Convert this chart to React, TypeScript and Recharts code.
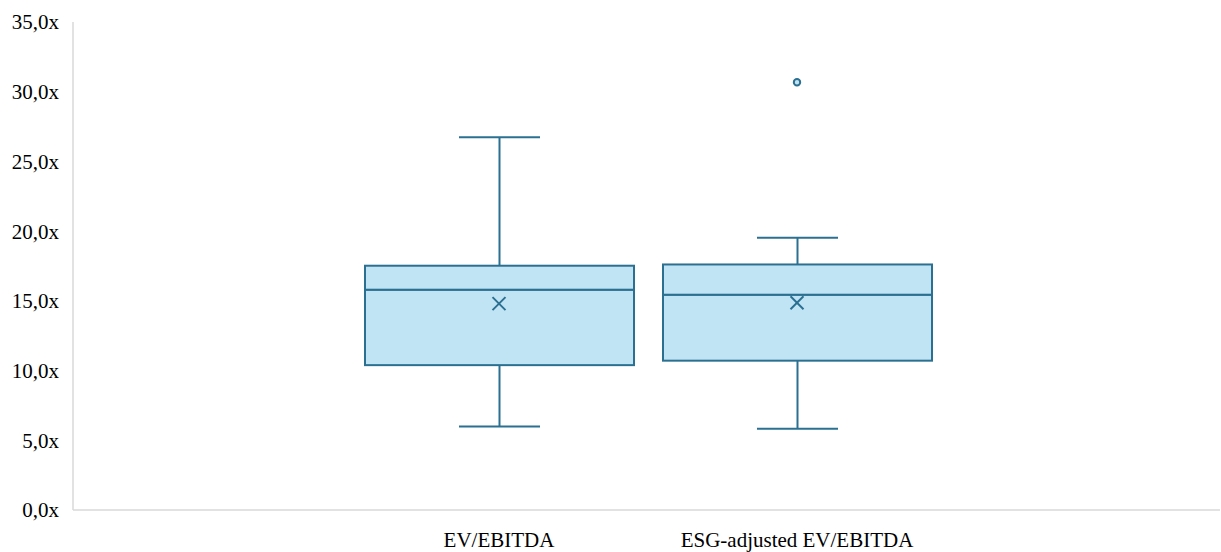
import React from 'react';
import { ComposedChart, Bar, Line, XAxis, YAxis } from 'recharts';

// Box & whisker statistics per category
const categories = ['EV/EBITDA', 'ESG-adjusted EV/EBITDA'];
const minValues = [5.98, 5.82];
const q1Values = [10.39, 10.71];
const medianValues = [15.8, 15.44];
const q3Values = [17.52, 17.61];
const maxValues = [26.74, 19.52];
const meanValues = [14.8, 14.87];
const outlierValues: (number | null)[] = [null, 30.68];
const yTicks = [0, 5, 10, 15, 20, 25, 30, 35];

const STROKE = '#2B7091';
const FILL = '#C1E4F5';
const FONT = '"Liberation Serif", "Times New Roman", serif';
const CAP_WIDTH = 81;

// Stacked segments: invisible base up to the minimum, then whisker/box pieces
const data = categories.map((name, i) => ({
  name,
  base: minValues[i],
  lowerWhisker: q1Values[i] - minValues[i],
  lowerBox: medianValues[i] - q1Values[i],
  upperBox: q3Values[i] - medianValues[i],
  upperWhisker: maxValues[i] - q3Values[i],
  mean: meanValues[i],
  outlier: outlierValues[i],
}));

const EmptyShape = () => <g />;

const BoxShape = (props: any) => {
  const { x, y, width, height } = props;
  return (
    <rect x={x} y={y} width={width} height={height} fill={FILL} stroke={STROKE} strokeWidth={2} />
  );
};

const LowerWhiskerShape = (props: any) => {
  const { x, y, width, height } = props;
  const cx = x + width / 2;
  const bottom = y + height;
  return (
    <g stroke={STROKE} strokeWidth={2}>
      <line x1={cx} y1={y} x2={cx} y2={bottom} />
      <line x1={cx - CAP_WIDTH / 2} y1={bottom} x2={cx + CAP_WIDTH / 2} y2={bottom} />
    </g>
  );
};

const UpperWhiskerShape = (props: any) => {
  const { x, y, width, height } = props;
  const cx = x + width / 2;
  return (
    <g stroke={STROKE} strokeWidth={2}>
      <line x1={cx} y1={y} x2={cx} y2={y + height} />
      <line x1={cx - CAP_WIDTH / 2} y1={y} x2={cx + CAP_WIDTH / 2} y2={y} />
    </g>
  );
};

const MeanDot = (props: any) => {
  const { cx, cy, value, index } = props;
  if (value == null || cx == null || cy == null) return <g key={`m-${index}`} />;
  const s = 6.5;
  return (
    <g key={`m-${index}`} stroke={STROKE} strokeWidth={2}>
      <line x1={cx - s} y1={cy - s} x2={cx + s} y2={cy + s} />
      <line x1={cx - s} y1={cy + s} x2={cx + s} y2={cy - s} />
    </g>
  );
};

const OutlierDot = (props: any) => {
  const { cx, cy, value, index } = props;
  if (value == null || cx == null || cy == null) return <g key={`o-${index}`} />;
  return <circle key={`o-${index}`} cx={cx} cy={cy} r={3.2} fill={FILL} stroke={STROKE} strokeWidth={2} />;
};

const formatY = (v: number) => v.toFixed(1).replace('.', ',') + 'x';

export default function App() {
  return (
    <div style={{ position: 'absolute', left: 0, top: 0, background: '#fff' }}>
      <ComposedChart
        width={1221}
        height={552}
        data={data}
        margin={{ top: 22, right: 1, left: 0, bottom: 0 }}
      >
        <XAxis
          dataKey="name"
          type="category"
          height={42}
          padding={{ left: 277, right: 274 }}
          axisLine={{ stroke: '#D9D9D9', strokeWidth: 1.5 }}
          tickLine={false}
          tickMargin={16}
          tick={{ fill: '#000', fontSize: 21, fontFamily: FONT }}
        />
        <YAxis
          type="number"
          domain={[0, 35]}
          ticks={yTicks}
          width={73}
          tickFormatter={formatY}
          axisLine={{ stroke: '#D9D9D9', strokeWidth: 1.5 }}
          tickLine={false}
          tickMargin={8}
          tick={{ fill: '#000', fontSize: 21, fontFamily: FONT }}
        />
        <Bar dataKey="base" stackId="box" barSize={269} shape={<EmptyShape />} isAnimationActive={false} />
        <Bar dataKey="lowerWhisker" stackId="box" barSize={269} shape={<LowerWhiskerShape />} isAnimationActive={false} />
        <Bar dataKey="lowerBox" stackId="box" barSize={269} shape={<BoxShape />} isAnimationActive={false} />
        <Bar dataKey="upperBox" stackId="box" barSize={269} shape={<BoxShape />} isAnimationActive={false} />
        <Bar dataKey="upperWhisker" stackId="box" barSize={269} shape={<UpperWhiskerShape />} isAnimationActive={false} />
        <Line dataKey="mean" stroke="none" dot={MeanDot} activeDot={false} isAnimationActive={false} />
        <Line dataKey="outlier" stroke="none" dot={OutlierDot} activeDot={false} isAnimationActive={false} />
      </ComposedChart>
    </div>
  );
}
